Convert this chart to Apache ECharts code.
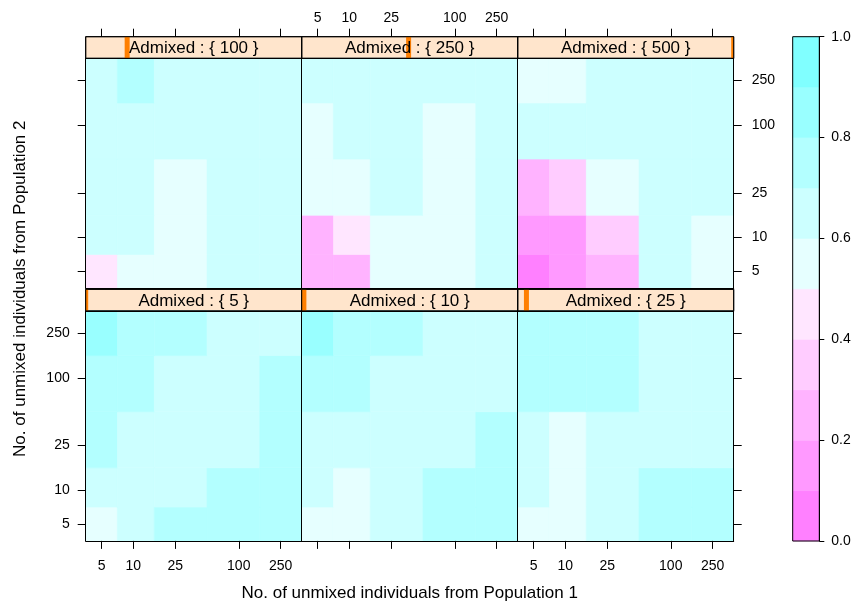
<!DOCTYPE html>
<html>
<head>
<meta charset="utf-8">
<script src="https://cdn.jsdelivr.net/npm/echarts@6.0.0/dist/echarts.min.js"></script>
<style>
html,body{margin:0;padding:0;background:#fff;}
#chart{width:857px;height:605px;}
</style>
</head>
<body>
<div id="chart"></div>
<script>
// ---------- data ----------
const popSizes = [5, 10, 25, 100, 250];          // Pop1 (x) and Pop2 (y) sizes
const tickLabels = ['5', '10', '25', '100', '250'];
const admixedLevels = [5, 10, 25, 100, 250, 500];
// each matrix: rows = Pop2 (5,10,25,100,250 bottom->top), cols = Pop1 (5..250)
const adm5 = [
  [0.55, 0.65, 0.75, 0.75, 0.75],
  [0.65, 0.65, 0.65, 0.75, 0.75],
  [0.75, 0.65, 0.65, 0.65, 0.75],
  [0.75, 0.75, 0.65, 0.65, 0.75],
  [0.85, 0.75, 0.75, 0.65, 0.65]
];
const adm10 = [
  [0.55, 0.55, 0.65, 0.75, 0.75],
  [0.65, 0.55, 0.65, 0.75, 0.75],
  [0.65, 0.65, 0.65, 0.65, 0.75],
  [0.75, 0.75, 0.65, 0.65, 0.65],
  [0.85, 0.75, 0.75, 0.65, 0.65]
];
const adm25 = [
  [0.55, 0.55, 0.65, 0.75, 0.75],
  [0.65, 0.55, 0.65, 0.75, 0.75],
  [0.65, 0.55, 0.65, 0.65, 0.65],
  [0.75, 0.75, 0.75, 0.65, 0.65],
  [0.75, 0.75, 0.75, 0.65, 0.65]
];
const adm100 = [
  [0.45, 0.55, 0.55, 0.65, 0.65],
  [0.65, 0.65, 0.55, 0.65, 0.65],
  [0.65, 0.65, 0.55, 0.65, 0.65],
  [0.65, 0.65, 0.65, 0.65, 0.65],
  [0.65, 0.75, 0.65, 0.65, 0.65]
];
const adm250 = [
  [0.25, 0.25, 0.55, 0.55, 0.65],
  [0.25, 0.45, 0.55, 0.55, 0.65],
  [0.55, 0.55, 0.65, 0.55, 0.65],
  [0.55, 0.65, 0.65, 0.55, 0.65],
  [0.65, 0.65, 0.65, 0.65, 0.65]
];
const adm500 = [
  [0.05, 0.15, 0.25, 0.65, 0.55],
  [0.15, 0.15, 0.35, 0.65, 0.55],
  [0.25, 0.35, 0.55, 0.65, 0.65],
  [0.65, 0.65, 0.65, 0.65, 0.65],
  [0.55, 0.55, 0.65, 0.65, 0.65]
];
const colorBreaks = [0, 0.1, 0.2, 0.3, 0.4, 0.5, 0.6, 0.7, 0.8, 0.9, 1.0];
const levelColors = ['#FF80FF', '#FF99FF', '#FFB3FF', '#FFCCFF', '#FFE6FF',
                     '#E6FFFF', '#CCFFFF', '#B3FFFF', '#99FFFF', '#80FFFF'];
const colorbarTicks = [0, 0.2, 0.4, 0.6, 0.8, 1.0];
const xTitle = 'No. of unmixed individuals from Population 1';
const yTitle = 'No. of unmixed individuals from Population 2';

// ---------- layout ----------
const FONT = '"Liberation Sans", Arial, Helvetica, sans-serif';
const colLeft = [85.7, 301.7, 517.7];
const panelW = 216, panelH = 230, stripH = 21.6;
const rowStripTop = [36.7, 289.3];
const panels = [
  { adm: admixedLevels[3], z: adm100, row: 0, col: 0 },
  { adm: admixedLevels[4], z: adm250, row: 0, col: 1 },
  { adm: admixedLevels[5], z: adm500, row: 0, col: 2 },
  { adm: admixedLevels[0], z: adm5,   row: 1, col: 0 },
  { adm: admixedLevels[1], z: adm10,  row: 1, col: 1 },
  { adm: admixedLevels[2], z: adm25,  row: 1, col: 2 }
];

const L = popSizes.map(Math.log10);
const edges = [L[0] - (L[1] - L[0]) / 2];
for (let i = 1; i < L.length; i++) edges.push((L[i - 1] + L[i]) / 2);
edges.push(L[L.length - 1] + (L[L.length - 1] - L[L.length - 2]) / 2);
const lo = edges[0], hi = edges[edges.length - 1];
const fmt = v => { const i = L.findIndex(l => Math.abs(l - v) < 1e-9); return i < 0 ? '' : tickLabels[i]; };

function logAxis(gridIndex, position, ticks, labels, margin, lineShow) {
  return {
    type: 'value', gridIndex, position, min: lo, max: hi, z: 10,
    splitLine: { show: false },
    axisLine: { show: lineShow !== false, onZero: false, lineStyle: { color: '#000', width: 1 } },
    axisTick: { show: ticks, inside: false, length: 8, customValues: L, lineStyle: { color: '#000', width: 1 } },
    axisLabel: { show: labels, customValues: L, formatter: fmt, margin: margin || 16,
                 fontSize: 14, color: '#000', fontFamily: FONT, hideOverlap: false }
  };
}

const grids = [], xAxes = [], yAxes = [], series = [];
const cellSeriesIdx = [];

function cellRender(params, api) {
  const xi = api.value(3), yi = api.value(4);
  const p0 = api.coord([edges[xi], edges[yi]]);
  const p1 = api.coord([edges[xi + 1], edges[yi + 1]]);
  const c = api.visual('color');
  return { type: 'rect',
    shape: { x: p0[0], y: p1[1], width: p1[0] - p0[0], height: p0[1] - p1[1] },
    style: { fill: c, stroke: c, lineWidth: 0.6 } };
}

function frameRender(params) {
  const cs = params.coordSys;
  return { type: 'rect', shape: { x: cs.x, y: cs.y, width: cs.width, height: cs.height },
    style: { fill: 'none', stroke: '#000', lineWidth: 1 } };
}

function stripRender(params, api) {
  const cs = params.coordSys;
  const v = api.value(0);
  const p = api.coord([v, api.value(1)]);
  const x0 = Math.max(p[0] - 2.5, cs.x), x1 = Math.min(p[0] + 2.5, cs.x + cs.width);
  return { type: 'group', children: [
    { type: 'rect', shape: { x: x0, y: cs.y, width: Math.max(0, x1 - x0), height: cs.height },
      style: { fill: '#FF7F00' } },
    { type: 'text', style: { text: 'Admixed : { ' + v + ' }', x: cs.x + cs.width / 2, y: cs.y + cs.height / 2 + 1,
      align: 'center', verticalAlign: 'middle', fontSize: 17, fontFamily: FONT, fill: '#000' } },
    { type: 'rect', shape: { x: cs.x, y: cs.y, width: cs.width, height: cs.height },
      style: { fill: 'none', stroke: '#000', lineWidth: 1 } }
  ] };
}

panels.forEach(p => {
  const left = colLeft[p.col];
  const stripTop = rowStripTop[p.row];
  const panelTop = stripTop + stripH;
  // panel grid
  const g = grids.length;
  grids.push({ left, top: panelTop, width: panelW, height: panelH });
  const xb = xAxes.length;
  xAxes.push(logAxis(g, 'bottom', p.row === 1, p.row === 1 && p.col !== 1, 18));
  xAxes.push(logAxis(g, 'top', false, false));
  const yl = yAxes.length;
  yAxes.push(logAxis(g, 'left', p.col === 0, p.col === 0 && p.row === 1, 16));
  yAxes.push(logAxis(g, 'right', p.col === 2, p.col === 2 && p.row === 0, 18));
  const data = [];
  for (let yi = 0; yi < popSizes.length; yi++)
    for (let xi = 0; xi < popSizes.length; xi++)
      data.push([L[xi], L[yi], p.z[yi][xi], xi, yi]);
  cellSeriesIdx.push(series.length);
  series.push({ type: 'custom', coordinateSystem: 'cartesian2d', xAxisIndex: xb, yAxisIndex: yl,
    data, renderItem: cellRender, silent: true, animation: false, z: 2 });

  // strip grid
  const sg = grids.length;
  grids.push({ left, top: stripTop, width: panelW, height: stripH, show: true,
               backgroundColor: '#FFE5CC', borderColor: '#000', borderWidth: 1 });
  const sx = xAxes.length;
  xAxes.push({ type: 'value', gridIndex: sg, min: admixedLevels[0], max: admixedLevels[admixedLevels.length - 1], show: false });
  if (p.row === 0) xAxes.push(logAxis(sg, 'top', true, p.col === 1, 12, false));
  const sy = yAxes.length;
  yAxes.push({ type: 'value', gridIndex: sg, min: 0, max: 1, show: false });
  series.push({ type: 'custom', coordinateSystem: 'cartesian2d', xAxisIndex: sx, yAxisIndex: sy,
    data: [[p.adm, 0.5]], renderItem: stripRender, silent: true, animation: false, z: 3 });
});

// colour key
const cg = grids.length;
grids.push({ left: 792.7, top: 36.7, width: 26.6, height: 504.3 });
const cx = xAxes.length;
xAxes.push({ type: 'value', gridIndex: cg, min: 0, max: 1, position: 'bottom', show: false });
const cy = yAxes.length;
yAxes.push({ type: 'value', gridIndex: cg, min: 0, max: 1, interval: 0.2, position: 'right', z: 10,
  axisLine: { show: true, onZero: false, lineStyle: { color: '#000', width: 1 } },
  axisTick: { show: true, inside: false, length: 5, customValues: colorbarTicks, lineStyle: { color: '#000' } },
  axisLabel: { show: true, customValues: colorbarTicks, margin: 12, formatter: v => v.toFixed(1),
    fontSize: 14, color: '#000', fontFamily: FONT },
  splitLine: { show: false } });
const keyData = levelColors.map((c, i) => [colorBreaks[i], colorBreaks[i + 1], (colorBreaks[i] + colorBreaks[i + 1]) / 2]);
const keyIdx = series.length;
series.push({ type: 'custom', coordinateSystem: 'cartesian2d', xAxisIndex: cx, yAxisIndex: cy,
  data: keyData, encode: { x: -1, y: 0 }, silent: true, animation: false, z: 2,
  renderItem: (params, api) => {
    const p0 = api.coord([0, api.value(0)]);
    const p1 = api.coord([1, api.value(1)]);
    const c = api.visual('color');
    return { type: 'rect', shape: { x: p0[0], y: p1[1], width: p1[0] - p0[0], height: p0[1] - p1[1] },
      style: { fill: c, stroke: c, lineWidth: 0.6 } };
  } });
series.push({ type: 'custom', coordinateSystem: 'cartesian2d', xAxisIndex: cx, yAxisIndex: cy,
  data: [[0.5, 0.5]], silent: true, animation: false, z: 5, renderItem: frameRender });

const pieces = levelColors.map((c, i) => {
  const pc = { gte: colorBreaks[i], color: c };
  if (i === levelColors.length - 1) pc.lte = colorBreaks[i + 1]; else pc.lt = colorBreaks[i + 1];
  return pc;
});

const chart = echarts.init(document.getElementById('chart'), null, { renderer: 'canvas' });
chart.setOption({
  backgroundColor: '#fff',
  animation: false,
  grid: grids,
  xAxis: xAxes,
  yAxis: yAxes,
  visualMap: { type: 'piecewise', show: false, dimension: 2, seriesIndex: cellSeriesIdx.concat([keyIdx]), pieces },
  series,
  graphic: [
    { type: 'text', x: 409.7, y: 593, z: 100,
      style: { text: xTitle, align: 'center', verticalAlign: 'middle', fontSize: 17, fontFamily: FONT, fill: '#000' } },
    { type: 'text', x: 20, y: 288.7, rotation: Math.PI / 2, z: 100,
      style: { text: yTitle, align: 'center', verticalAlign: 'middle', fontSize: 17, fontFamily: FONT, fill: '#000' } }
  ]
});
</script>
</body>
</html>
